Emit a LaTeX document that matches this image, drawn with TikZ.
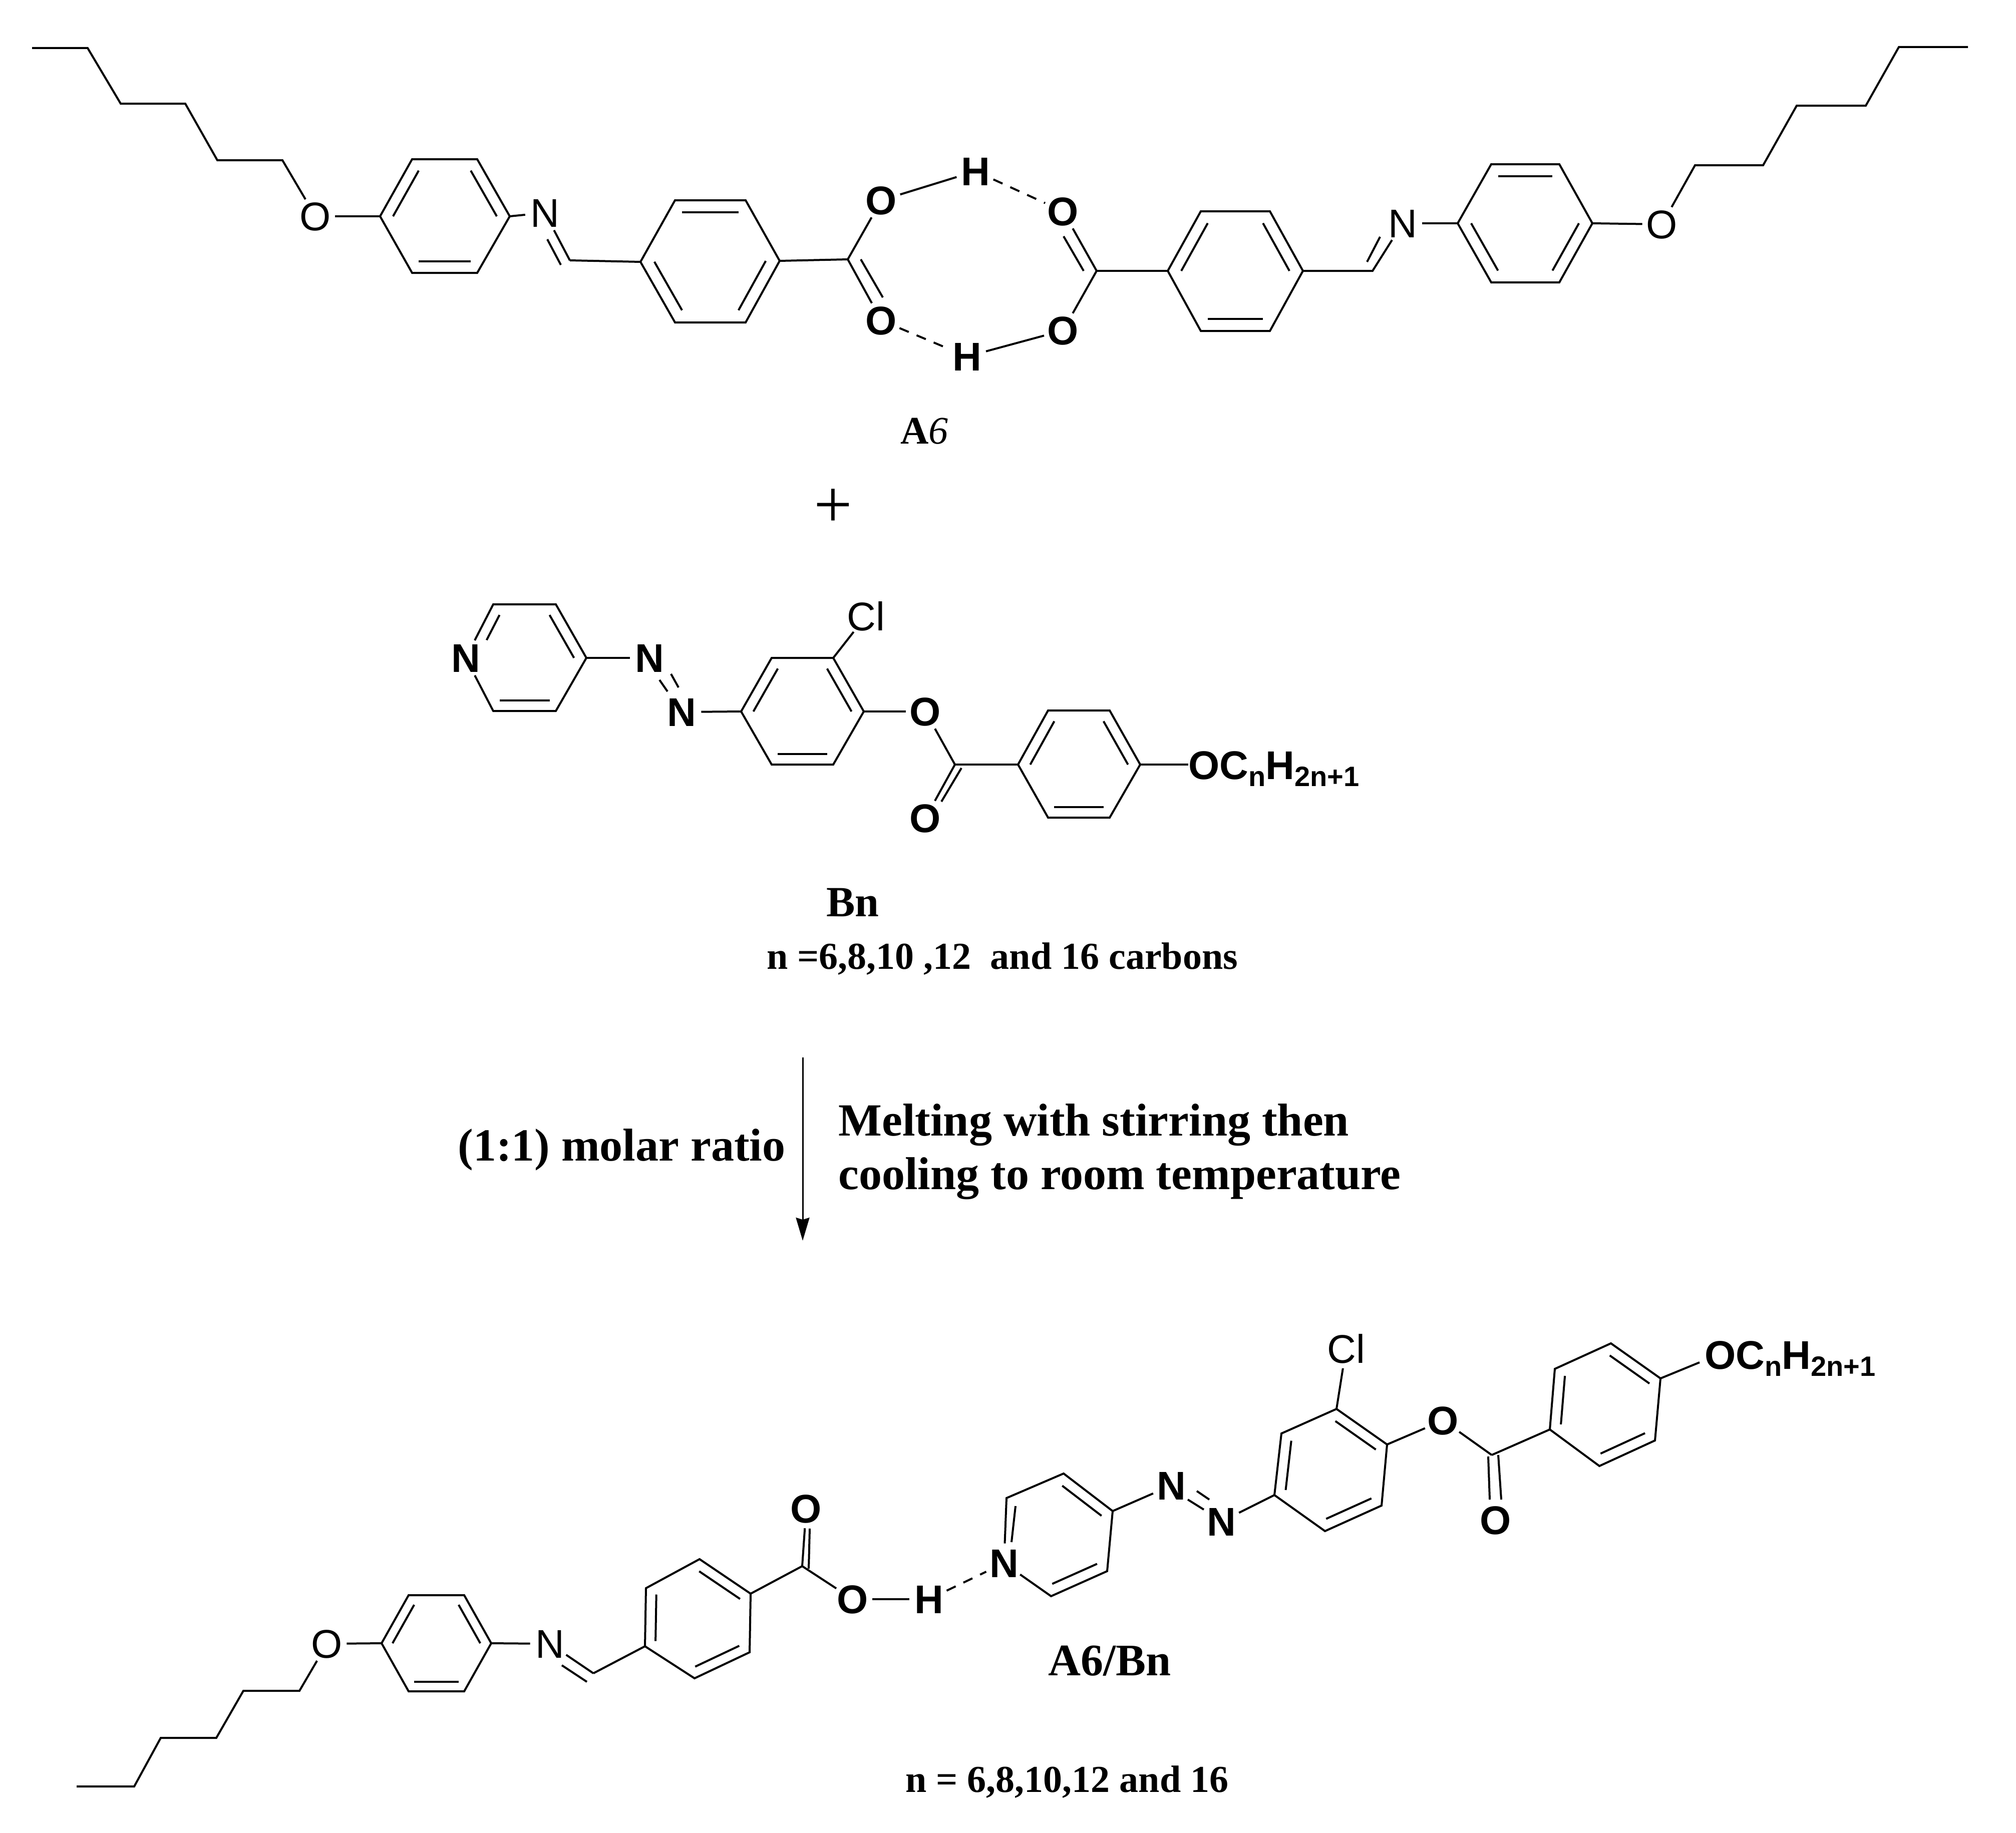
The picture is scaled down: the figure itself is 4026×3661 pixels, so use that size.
\documentclass[tikz,border=0pt]{standalone}
\usepackage{fontspec}
\setmainfont{Liberation Serif}
\newfontfamily\arialfont{Liberation Sans}
\usetikzlibrary{calc,arrows.meta}
\newcommand{\chemreg}{\arialfont\fontsize{40}{40}\selectfont}
\newcommand{\chembold}{\arialfont\bfseries\fontsize{40}{40}\selectfont}
\newcommand{\lab}[1]{\raisebox{-14.3pt}[0pt][0pt]{\makebox[0pt]{#1}}}
\newcommand{\sbs}[1]{\raisebox{-7pt}{\fontsize{28}{28}\selectfont #1}}
\newcommand{\pnt}[3]{\coordinate (#1) at (#2,#3);}
% inner stroke of a ring double bond: vertices a,b pulled towards ring centre c
\newcommand{\dbl}[3]{\draw[bond] ($(#1)!.2!(#3)$) -- ($(#2)!.2!(#3)$);}
\tikzset{
  bond/.style={line width=2pt,line cap=butt,line join=miter},
  hbond/.style={line width=2pt,dash pattern=on 10pt off 8.5pt},
  atom/.style={circle,inner sep=0pt,minimum size=39pt,font=\chemreg},
  atomb/.style={atom,font=\chembold},
  oc/.style={anchor=base west,inner sep=0pt,font=\chembold},
  sml/.style={anchor=base west,inner sep=0pt,font=\bfseries\fontsize{38}{38}\selectfont},
  lbl/.style={anchor=base,inner sep=0pt,font=\bfseries\fontsize{44}{44}\selectfont},
  cond/.style={anchor=base west,inner sep=0pt,font=\bfseries\fontsize{46}{46}\selectfont},
  rxn/.style={line width=1.5pt,-{Stealth[length=23pt,width=13.5pt,inset=2pt]}}
}
\begin{document}
\begin{tikzpicture}[x=0.5pt,y=-0.5pt]
\useasboundingbox[fill=white] (0,0) rectangle (4026,3661);

%%% ---------- A6 dimer ----------
\pnt{c1}{64}{96}\pnt{c2}{175}{96}\pnt{c3}{241}{207}\pnt{c4}{370}{207}\pnt{c5}{434}{320}\pnt{c6}{564}{320}
\node[atom] (O1) at (630,432) {\lab{O}};
\draw[bond] (c1)--(c2)--(c3)--(c4)--(c5)--(c6)--(O1);
\pnt{a1}{759}{432}\pnt{a2}{823}{318}\pnt{a3}{953}{318}\pnt{a4}{1018}{432}\pnt{a5}{953}{545}\pnt{a6}{823}{545}
\coordinate (ac) at ($(a1)!.5!(a4)$);
\draw[bond] (a1)--(a2)--(a3)--(a4)--(a5)--(a6)--cycle;
\dbl{a1}{a2}{ac}\dbl{a3}{a4}{ac}\dbl{a5}{a6}{ac}
\draw[bond] (O1)--(a1);
\node[atom] (N1) at (1088,425) {\lab{N}};
\pnt{im1}{1138}{520}\pnt{im1a}{1120}{529}\pnt{im1b}{1093}{478}
\draw[bond] (a4)--(N1);
\draw[bond] (N1)--(im1);
\draw[bond] (im1a)--(im1b);
\pnt{b1}{1279}{523}\pnt{b2}{1348}{400}\pnt{b3}{1489}{400}\pnt{b4}{1557}{521}\pnt{b5}{1489}{644}\pnt{b6}{1348}{644}
\coordinate (bc) at ($(b1)!.5!(b4)$);
\draw[bond] (b1)--(b2)--(b3)--(b4)--(b5)--(b6)--cycle;
\dbl{b2}{b3}{bc}\dbl{b4}{b5}{bc}\dbl{b6}{b1}{bc}
\draw[bond] (im1)--(b1);
\pnt{k1}{1693}{518}\pnt{k1a}{1719}{518}\pnt{k1b}{1763}{594}
\node[atomb] (O2) at (1760,400) {\lab{O}};
\node[atomb] (O3) at (1760,640) {\lab{O}};
\node[atomb] (H1) at (1948,342) {\lab{H}};
\node[atomb] (H2) at (1931,712) {\lab{H}};
\draw[bond] (b4)--(k1)--(O2);
\draw[bond] (k1)--(O3);
\draw[bond] (k1a)--(k1b);
\draw[bond] (O2)--(H1);
\draw[hbond] (O3)--(H2);
\node[atomb] (O4) at (2123,422) {\lab{O}};
\node[atomb] (O5) at (2123,660) {\lab{O}};
\draw[hbond] (H1)--(O4);
\draw[bond] (H2)--(O5);
\pnt{k2}{2190}{541}\pnt{k2a}{2164}{541}\pnt{k2b}{2124}{472}
\draw[bond] (O4)--(k2)--(O5);
\draw[bond] (k2a)--(k2b);
\pnt{d1}{2332}{541}\pnt{d2}{2398}{422}\pnt{d3}{2536}{422}\pnt{d4}{2602}{541}\pnt{d5}{2536}{661}\pnt{d6}{2398}{661}
\coordinate (dc) at ($(d1)!.5!(d4)$);
\draw[bond] (d1)--(d2)--(d3)--(d4)--(d5)--(d6)--cycle;
\dbl{d1}{d2}{dc}\dbl{d3}{d4}{dc}\dbl{d5}{d6}{dc}
\draw[bond] (k2)--(d1);
\pnt{im2}{2741}{541}\pnt{im2a}{2730}{523}\pnt{im2b}{2756}{473}
\node[atom] (N2) at (2801,446) {\lab{N}};
\draw[bond] (d4)--(im2)--(N2);
\draw[bond] (im2a)--(im2b);
\pnt{e1}{2911}{446}\pnt{e2}{2978}{328}\pnt{e3}{3114}{328}\pnt{e4}{3180}{446}\pnt{e5}{3114}{564}\pnt{e6}{2978}{564}
\coordinate (ec) at ($(e1)!.5!(e4)$);
\draw[bond] (e1)--(e2)--(e3)--(e4)--(e5)--(e6)--cycle;
\dbl{e2}{e3}{ec}\dbl{e4}{e5}{ec}\dbl{e6}{e1}{ec}
\draw[bond] (N2)--(e1);
\node[atom] (O6) at (3319,448) {\lab{O}};
\draw[bond] (e4)--(O6);
\pnt{f1}{3385}{330}\pnt{f2}{3521}{330}\pnt{f3}{3588}{211}\pnt{f4}{3726}{211}\pnt{f5}{3792}{94}\pnt{f6}{3930}{94}
\draw[bond] (O6)--(f1)--(f2)--(f3)--(f4)--(f5)--(f6);

\node[anchor=base,inner sep=0pt,font=\fontsize{39}{39}\selectfont] (A6) at (1846,886) {\textbf{A}\textit{6}};
\node[anchor=base,inner sep=0pt,font=\fontsize{68}{68}\selectfont] (plus) at (1664,1053) {+};

%%% ---------- Bn ----------
\node[atomb] (Np) at (930,1314) {\lab{N}};
\pnt{p1}{985}{1207}\pnt{p2}{1110}{1207}\pnt{p3}{1171}{1314}\pnt{p4}{1110}{1420}\pnt{p5}{985}{1420}
\coordinate (pc) at ($(p1)!.5!(p4)$);
\draw[bond] (Np)--(p1)--(p2)--(p3)--(p4)--(p5)--(Np);
\draw[bond,shorten >=20pt] ($(p1)!.2!(pc)$) -- ($(Np)!.2!(pc)$);
\dbl{p2}{p3}{pc}\dbl{p4}{p5}{pc}
\node[atomb] (Na) at (1297,1314) {\lab{N}};
\node[atomb] (Nb) at (1361,1422) {\lab{N}};
\draw[bond] (p3)--(Na);
\pnt{nn1}{1317}{1358}\pnt{nn2}{1333}{1381}\pnt{nn3}{1340}{1346}\pnt{nn4}{1355}{1373}
\draw[bond] (nn1)--(nn2);
\draw[bond] (nn3)--(nn4);
\pnt{g1}{1480}{1421}\pnt{g2}{1541}{1314}\pnt{g3}{1664}{1314}\pnt{g4}{1725}{1421}\pnt{g5}{1664}{1527}\pnt{g6}{1541}{1527}
\coordinate (gc) at ($(g1)!.5!(g4)$);
\draw[bond] (g1)--(g2)--(g3)--(g4)--(g5)--(g6)--cycle;
\dbl{g1}{g2}{gc}\dbl{g3}{g4}{gc}\dbl{g5}{g6}{gc}
\draw[bond] (Nb)--(g1);
\node[atom] (Cl1) at (1729,1231) {\lab{Cl}};
\draw[bond] (g3)--(Cl1);
\node[atomb] (O7) at (1848,1421) {\lab{O}};
\node[atomb] (O8) at (1848,1634) {\lab{O}};
\pnt{k3}{1907}{1527}\pnt{k3a}{1920}{1534}\pnt{k3b}{1880}{1601}
\draw[bond] (g4)--(O7);
\draw[bond] (O7)--(k3)--(O8);
\draw[bond] (k3a)--(k3b);
\pnt{h1}{2033}{1527}\pnt{h2}{2093}{1419}\pnt{h3}{2216}{1419}\pnt{h4}{2277}{1527}\pnt{h5}{2216}{1633}\pnt{h6}{2093}{1633}
\coordinate (hc) at ($(h1)!.5!(h4)$);
\draw[bond] (h1)--(h2)--(h3)--(h4)--(h5)--(h6)--cycle;
\dbl{h1}{h2}{hc}\dbl{h3}{h4}{hc}\dbl{h5}{h6}{hc}
\draw[bond] (k3)--(h1);
\node[oc] (OC1) at (2373,1556) {OC\sbs{n}H\sbs{2n+1}};
\draw[bond] (h4)--(OC1.west |- h4);
\node[lbl,font=\bfseries\fontsize{43}{43}\selectfont] (Bn) at (1703,1830) {Bn};
\node[sml] (nB) at (1531,1935) {n =6,8,10 ,12\ \ and 16 carbons};

%%% ---------- arrow ----------
\coordinate (ar1) at (1603,2112);
\coordinate (ar2) at (1603,2478);
\draw[rxn] (ar1)--(ar2);
\node[cond] (mol) at (914,2318) {(1:1) molar ratio};
\node[cond] (melt) at (1674,2268) {Melting with stirring then};
\node[cond] (cool) at (1674,2375) {cooling to room temperature};

%%% ---------- A6/Bn ----------
\pnt{j1}{153}{3568}\pnt{j2}{268}{3568}\pnt{j3}{321}{3471}\pnt{j4}{432}{3471}\pnt{j5}{486}{3377}\pnt{j6}{598}{3377}
\node[atom] (O9) at (653,3283) {\lab{O}};
\draw[bond] (j1)--(j2)--(j3)--(j4)--(j5)--(j6)--(O9);
\pnt{l1}{762}{3282}\pnt{l2}{816}{3186}\pnt{l3}{927}{3186}\pnt{l4}{981}{3282}\pnt{l5}{927}{3378}\pnt{l6}{816}{3378}
\coordinate (lc) at ($(l1)!.5!(l4)$);
\draw[bond] (l1)--(l2)--(l3)--(l4)--(l5)--(l6)--cycle;
\dbl{l1}{l2}{lc}\dbl{l3}{l4}{lc}\dbl{l5}{l6}{lc}
\draw[bond] (O9)--(l1);
\node[atom] (N3) at (1098,3283) {\lab{N}};
\pnt{im3}{1185}{3342}\pnt{im3a}{1172}{3359}\pnt{im3b}{1122}{3326}
\draw[bond] (l4)--(N3);
\draw[bond] (N3)--(im3);
\draw[bond] (im3a)--(im3b);
\pnt{m1}{1288}{3288}\pnt{m2}{1290}{3172}\pnt{m3}{1397}{3114}\pnt{m4}{1499}{3183}\pnt{m5}{1497}{3300}\pnt{m6}{1387}{3352}
\coordinate (mc) at ($(m1)!.5!(m4)$);
\draw[bond] (m1)--(m2)--(m3)--(m4)--(m5)--(m6)--cycle;
\dbl{m1}{m2}{mc}\dbl{m3}{m4}{mc}\dbl{m5}{m6}{mc}
\draw[bond] (im3)--(m1);
\pnt{k4}{1602}{3128}\pnt{k4a}{1615}{3133}\pnt{k4b}{1617}{3053}
\node[atomb] (O10) at (1610,3013) {\lab{O}};
\node[atomb] (O11) at (1703,3194) {\lab{O}};
\node[atomb] (H3) at (1855,3194) {\lab{H}};
\node[atomb] (N4) at (2005,3122) {\lab{N}};
\draw[bond] (m4)--(k4)--(O10);
\draw[bond] (k4a)--(k4b);
\draw[bond] (k4)--(O11);
\draw[bond] (O11)--(H3);
\draw[hbond] (H3)--(N4);
\pnt{q1}{2010}{2992}\pnt{q2}{2124}{2943}\pnt{q3}{2222}{3018}\pnt{q4}{2211}{3138}\pnt{q5}{2099}{3188}
\coordinate (qc) at ($(q1)!.5!(q4)$);
\draw[bond] (N4)--(q1)--(q2)--(q3)--(q4)--(q5)--(N4);
\pnt{qa}{2028}{3008}\pnt{qb}{2020}{3080}
\draw[bond] (qa)--(qb);
\dbl{q2}{q3}{qc}\dbl{q4}{q5}{qc}
\node[atomb] (Nc) at (2339,2967) {\lab{N}};
\node[atomb] (Nd) at (2439,3039) {\lab{N}};
\draw[bond] (q3)--(Nc);
\pnt{nn5}{2372}{2995}\pnt{nn6}{2404}{3015}\pnt{nn7}{2390}{2978}\pnt{nn8}{2415}{2995}
\draw[bond] (nn5)--(nn6);
\draw[bond] (nn7)--(nn8);
\pnt{s1}{2545}{2986}\pnt{s2}{2559}{2863}\pnt{s3}{2669}{2814}\pnt{s4}{2770}{2885}\pnt{s5}{2759}{3007}\pnt{s6}{2646}{3058}
\coordinate (sc) at ($(s1)!.5!(s4)$);
\draw[bond] (s1)--(s2)--(s3)--(s4)--(s5)--(s6)--cycle;
\dbl{s1}{s2}{sc}\dbl{s3}{s4}{sc}\dbl{s5}{s6}{sc}
\draw[bond] (Nd)--(s1);
\node[atom] (Cl2) at (2688,2694) {\lab{Cl}};
\draw[bond] (s3)--(Cl2);
\node[atomb] (O12) at (2882,2837) {\lab{O}};
\node[atomb] (O13) at (2987,3036) {\lab{O}};
\pnt{k5}{2979}{2906}\pnt{k5a}{2992}{2906}\pnt{k5b}{2998}{2995}\pnt{k5c}{2972}{2909}\pnt{k5d}{2975}{2995}
\draw[bond] (s4)--(O12);
\draw[bond] (O12)--(k5);
\draw[bond] (k5c)--(k5d);
\draw[bond] (k5a)--(k5b);
\pnt{u1}{3095}{2855}\pnt{u2}{3105}{2734}\pnt{u3}{3217}{2683}\pnt{u4}{3316}{2753}\pnt{u5}{3305}{2877}\pnt{u6}{3194}{2928}
\coordinate (uc) at ($(u1)!.5!(u4)$);
\draw[bond] (u1)--(u2)--(u3)--(u4)--(u5)--(u6)--cycle;
\dbl{u1}{u2}{uc}\dbl{u3}{u4}{uc}\dbl{u5}{u6}{uc}
\draw[bond] (k5)--(u1);
\node[oc] (OC2) at (3404,2734) {OC\sbs{n}H\sbs{2n+1}};
\coordinate (OC2b) at (3394,2721);
\draw[bond] (u4)--(OC2b);
\node[lbl,font=\bfseries\fontsize{45}{45}\selectfont] (A6Bn) at (2216,3346) {A6/Bn};
\node[sml] (nAB) at (1808,3579) {n = 6,8,10,12 and 16};
\end{tikzpicture}
\end{document}
